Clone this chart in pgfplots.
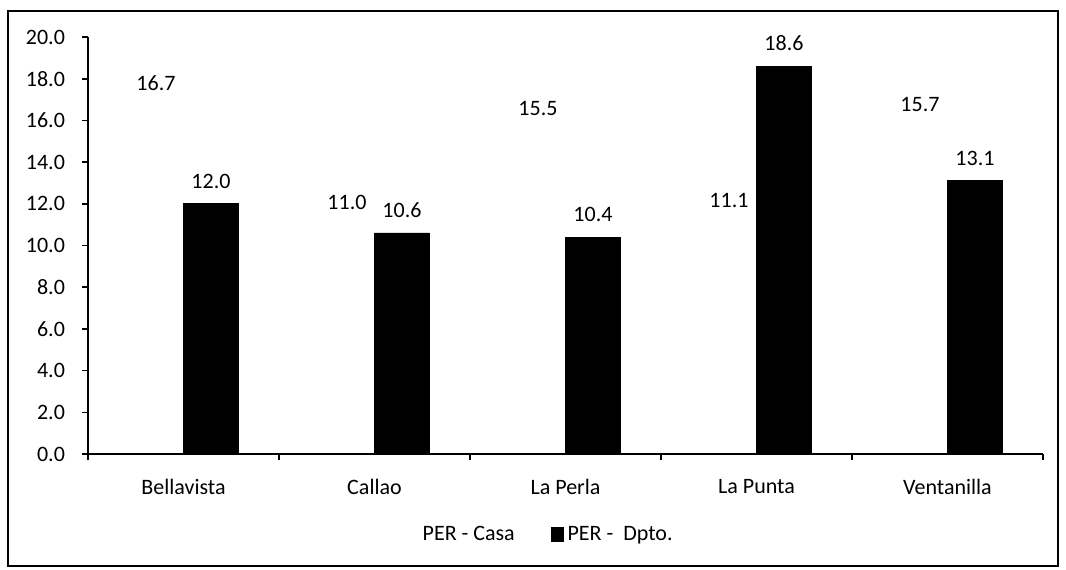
\documentclass[border=0pt]{standalone}
\usepackage{pgfplots}
\pgfplotsset{compat=1.18}
\usepackage{fontspec}
\setmainfont{Carlito}
\begin{document}
\begin{tikzpicture}[x=1pt,y=1pt]
\useasboundingbox (0,0) rectangle (533,284.5);
\draw[line width=0.8pt] (4,1.5) rectangle (529,279);
\begin{axis}[
  at={(44pt,57.5pt)}, anchor=south west,
  scale only axis, width=477.5pt, height=208.5pt,
  font=\fontsize{11}{13}\selectfont,
  ybar=0pt, bar width=27.5pt,
  xmin=0.5, xmax=5.5, ymin=0, ymax=20,
  axis x line=bottom, axis y line=left,
  axis line style={-, line width=0.8pt},
  axis on top,
  xtick={1,2,3,4,5},
  xticklabels={Bellavista,Callao,La Perla,La Punta,Ventanilla},
  major x tick style={draw=none},
  minor xtick={0.5,1.5,2.5,3.5,4.5,5.5},
  minor tick length=3pt,
  ytick={0,2,...,20},
  major tick length=3pt,
  tick align=outside,
  tick style={line width=0.8pt, black},
  yticklabel style={/pgf/number format/.cd, fixed, fixed zerofill, precision=1, /tikz/.cd, xshift=-5pt},
  /pgf/number format/assume math mode=true,
  xticklabel style={yshift=-6pt},
  nodes near coords,
  nodes near coords style={/pgf/number format/.cd, fixed, fixed zerofill, precision=1, /tikz/.cd, font=\fontsize{11}{13}\selectfont, yshift=4pt},
  legend columns=2,
  legend style={draw=none, at={(0.475,-0.194)}, anchor=center, font=\fontsize{11}{13}\selectfont,
    /tikz/every even column/.append style={column sep=16pt}},
  legend image code/.code={\fill[#1] (0pt,-3pt) rectangle (6pt,4pt);},
  clip=false,
]
\addplot[fill=white, draw=none] coordinates {(1,16.7) (2,11.0) (3,15.5) (4,11.1) (5,15.7)};
\addplot[fill=black, draw=black] coordinates {(1,12.0) (2,10.6) (3,10.4) (4,18.6) (5,13.1)};
\legend{PER - Casa, PER -\ \ Dpto.}
\end{axis}
\end{tikzpicture}
\end{document}
